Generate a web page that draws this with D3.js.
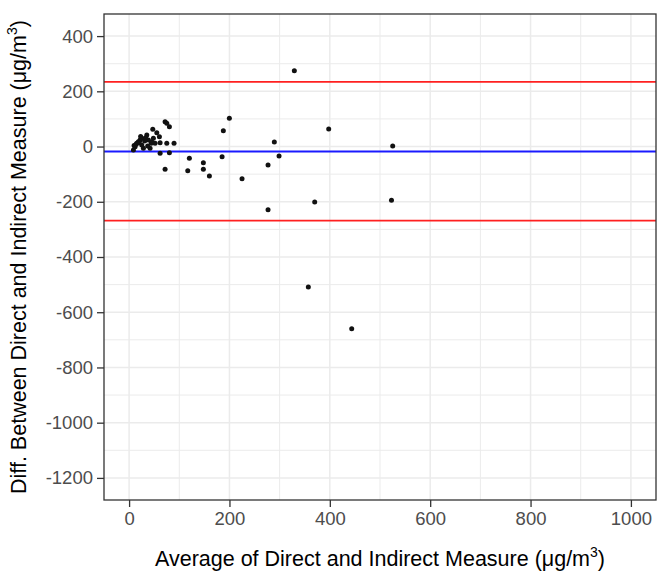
<!DOCTYPE html>
<html>
<head>
<meta charset="utf-8">
<script src="https://cdn.jsdelivr.net/npm/d3@7"></script>
<style>
  body { margin: 0; background: #fff; }
  text { font-family: Arial, "Liberation Sans", sans-serif; }
</style>
</head>
<body>
<div id="graphic"></div>
<script>
const WIDTH = 657;
const HEIGHT = 576;
const LEFT = 104;
const RIGHT = 656;
const TOP = 14;
const BOTTOM = 500;

// averages (x) and differences (y)
const avgValues = [8.6, 12, 15.3, 18.5, 21.9, 25.3, 28.5, 25.3, 35.3, 38.4, 41.8, 45.2, 48.4, 47.2, 55.2, 60.4,
  51.8, 61.8, 61.8, 71.7, 75.1, 80.3, 75.1, 89.6, 80.3, 71.7, 120.1, 148, 148, 116.9, 160, 185.3, 187.8, 199.8,
  225.1, 276.9, 289.4, 298.8, 276.9, 329.3, 369.9, 397.8, 525.3, 522.9, 357.2, 443.6,
  10, 14, 20, 31, 33, 44, 23, 37];
const diffValues = [-12.7, -0.7, 11.6, 17.4, 23.5, 5.4, -6.5, 29.7, 41.7, 23.5, -6.5, 17.4, 29.7, 62.3, 50, 35.5,
  11.6, 13.8, -24.6, 89.8, 84, 71.7, 11.6, 11.6, -22.5, -82.6, -42.7, -58.7, -82.6, -87.6, -106.8, -36.9, 57.2, 102.1,
  -116.6, -67, 16.3, -34.4, -228.9, 274.5, -201, 63.4, 1.8, -194.9, -508.5, -660,
  4, 8, 14, 20, 32, 12, 36, 2];

const meanDiff = -18;
const upperLimit = 234;
const lowerLimit = -268;

const xTicks = [0, 200, 400, 600, 800, 1000];
const xMinor = [100, 300, 500, 700, 900];
const yTicks = [400, 200, 0, -200, -400, -600, -800, -1000, -1200];
const yMinor = [300, 100, -100, -300, -500, -700, -900, -1100];

var points = avgValues.map((a, i) => ({ avg: a, diff: diffValues[i] }));

var svg = d3.select("#graphic")
  .append("svg")
  .attr("width", WIDTH)
  .attr("height", HEIGHT);

var xScale = d3.scaleLinear()
  .domain([-50, 1050])
  .range([LEFT, RIGHT]);

var yScale = d3.scaleLinear()
  .domain([-1280, 480])
  .range([BOTTOM, TOP]);

// grid
var grid = svg.append("g");
grid.selectAll("line.xminor").data(xMinor).enter().append("line")
  .attr("x1", d => xScale(d)).attr("x2", d => xScale(d))
  .attr("y1", TOP).attr("y2", BOTTOM)
  .attr("stroke", "#ebebeb").attr("stroke-width", 1);
grid.selectAll("line.yminor").data(yMinor).enter().append("line")
  .attr("y1", d => yScale(d)).attr("y2", d => yScale(d))
  .attr("x1", LEFT).attr("x2", RIGHT)
  .attr("stroke", "#ebebeb").attr("stroke-width", 1);
grid.selectAll("line.xmajor").data(xTicks).enter().append("line")
  .attr("x1", d => xScale(d)).attr("x2", d => xScale(d))
  .attr("y1", TOP).attr("y2", BOTTOM)
  .attr("stroke", "#ebebeb").attr("stroke-width", 1.5);
grid.selectAll("line.ymajor").data(yTicks).enter().append("line")
  .attr("y1", d => yScale(d)).attr("y2", d => yScale(d))
  .attr("x1", LEFT).attr("x2", RIGHT)
  .attr("stroke", "#ebebeb").attr("stroke-width", 1.5);

// reference lines
var refLines = [
  { v: upperLimit, color: "#ff2020" },
  { v: meanDiff, color: "#1a1aff" },
  { v: lowerLimit, color: "#ff2020" }
];
svg.append("g").selectAll("line").data(refLines).enter().append("line")
  .attr("x1", LEFT).attr("x2", RIGHT)
  .attr("y1", d => yScale(d.v)).attr("y2", d => yScale(d.v))
  .attr("stroke", d => d.color)
  .attr("stroke-width", 1.8);

// points
svg.append("g").selectAll("circle").data(points).enter().append("circle")
  .attr("cx", d => xScale(d.avg))
  .attr("cy", d => yScale(d.diff))
  .attr("r", 2.5)
  .attr("fill", "#111");

// axes
var xAxis = svg.append("g")
  .attr("transform", `translate(0, ${BOTTOM})`)
  .call(d3.axisBottom(xScale).tickValues(xTicks).tickFormat(d => d).tickSize(7).tickPadding(5));
var yAxis = svg.append("g")
  .attr("transform", `translate(${LEFT}, 0)`)
  .call(d3.axisLeft(yScale).tickValues(yTicks).tickFormat(d => d).tickSize(7).tickPadding(4));

[xAxis, yAxis].forEach(a => {
  a.select(".domain").remove();
  a.selectAll(".tick line").attr("stroke", "#333").attr("stroke-width", 1.3);
  a.selectAll(".tick text").attr("fill", "#4d4d4d").style("font-size", "18.5px");
});

// panel border
svg.append("rect")
  .attr("x", LEFT).attr("y", TOP)
  .attr("width", RIGHT - LEFT).attr("height", BOTTOM - TOP)
  .attr("fill", "none")
  .attr("stroke", "#333")
  .attr("stroke-width", 1.3);

// titles
var xTitle = svg.append("text")
  .attr("x", (LEFT + RIGHT) / 2)
  .attr("y", 566)
  .attr("text-anchor", "middle")
  .style("font-size", "21.5px")
  .attr("fill", "#000");
xTitle.append("tspan").text("Average of Direct and Indirect Measure (μg/m");
xTitle.append("tspan").attr("dy", -9).style("font-size", "14px").text("3");
xTitle.append("tspan").attr("dy", 9).text(")");

var yTitle = svg.append("text")
  .attr("transform", `translate(26, ${(TOP + BOTTOM) / 2}) rotate(-90)`)
  .attr("text-anchor", "middle")
  .style("font-size", "21.5px")
  .attr("fill", "#000");
yTitle.append("tspan").text("Diff. Between Direct and Indirect Measure (μg/m");
yTitle.append("tspan").attr("dy", -9).style("font-size", "14px").text("3");
yTitle.append("tspan").attr("dy", 9).text(")");
</script>
</body>
</html>
